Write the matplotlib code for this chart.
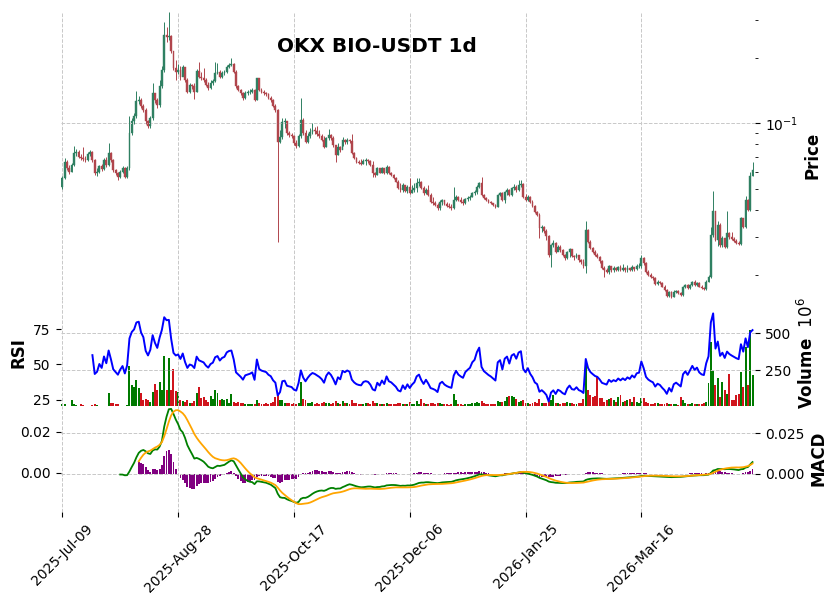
import numpy as np
import pandas as pd
import matplotlib
matplotlib.use("Agg")
from matplotlib import pyplot as plt
from matplotlib.collections import LineCollection
from matplotlib.ticker import FixedLocator, NullFormatter, FuncFormatter

title = "OKX BIO-USDT 1d"
start_date = "2025-07-09"
first_open = 0.0510

closes = [
    0.0559, 0.0666, 0.0621, 0.0599, 0.0643, 0.0728, 0.0740, 0.0702, 0.0690, 0.0683,
    0.0678, 0.0723, 0.0740, 0.0678, 0.0589, 0.0599, 0.0636, 0.0616, 0.0678, 0.0643,
    0.0728, 0.0678, 0.0610, 0.0589, 0.0569, 0.0599, 0.0621, 0.0569, 0.0621, 0.0903,
    0.1021, 0.1077, 0.1260, 0.1283, 0.1196, 0.1155, 0.1021, 0.0969, 0.1057, 0.1377,
    0.1283, 0.1217, 0.1477, 0.1761, 0.2548, 0.2494, 0.2521, 0.2152, 0.1798, 0.1724,
    0.1761, 0.1641, 0.1824, 0.1585, 0.1400, 0.1503, 0.1477, 0.1400, 0.1742, 0.1641,
    0.1612, 0.1585, 0.1503, 0.1450, 0.1535, 0.1568, 0.1700, 0.1729, 0.1641, 0.1700,
    0.1724, 0.1824, 0.1857, 0.1867, 0.1729, 0.1477, 0.1426, 0.1377, 0.1311, 0.1377,
    0.1388, 0.1400, 0.1418, 0.1283, 0.1612, 0.1426, 0.1392, 0.1377, 0.1362, 0.1311,
    0.1283, 0.1204, 0.1155, 0.0823, 0.0866, 0.1017, 0.1025, 0.0903, 0.0887, 0.0871,
    0.0809, 0.0787, 0.0872, 0.1039, 0.0903, 0.0823, 0.0872, 0.0910, 0.0935, 0.0920,
    0.0896, 0.0872, 0.0838, 0.0782, 0.0853, 0.0887, 0.0853, 0.0795, 0.0715, 0.0782,
    0.0754, 0.0838, 0.0821, 0.0838, 0.0825, 0.0728, 0.0690, 0.0666, 0.0655, 0.0650,
    0.0673, 0.0678, 0.0671, 0.0643, 0.0592, 0.0579, 0.0621, 0.0593, 0.0621, 0.0589,
    0.0632, 0.0589, 0.0579, 0.0559, 0.0539, 0.0504, 0.0494, 0.0521, 0.0489, 0.0510,
    0.0479, 0.0494, 0.0504, 0.0530, 0.0538, 0.0503, 0.0477, 0.0494, 0.0469, 0.0436,
    0.0430, 0.0422, 0.0407, 0.0436, 0.0442, 0.0426, 0.0417, 0.0411, 0.0407, 0.0444,
    0.0460, 0.0444, 0.0436, 0.0430, 0.0447, 0.0454, 0.0460, 0.0477, 0.0485, 0.0512,
    0.0530, 0.0469, 0.0452, 0.0444, 0.0436, 0.0430, 0.0422, 0.0414, 0.0469, 0.0477,
    0.0444, 0.0485, 0.0494, 0.0469, 0.0503, 0.0510, 0.0494, 0.0521, 0.0527, 0.0460,
    0.0444, 0.0460, 0.0434, 0.0417, 0.0389, 0.0379, 0.0330, 0.0335, 0.0321, 0.0302,
    0.0248, 0.0276, 0.0283, 0.0257, 0.0270, 0.0262, 0.0248, 0.0240, 0.0256, 0.0264,
    0.0245, 0.0242, 0.0248, 0.0234, 0.0229, 0.0220, 0.0324, 0.0286, 0.0267, 0.0257,
    0.0248, 0.0244, 0.0232, 0.0216, 0.0212, 0.0208, 0.0220, 0.0212, 0.0216, 0.0212,
    0.0218, 0.0212, 0.0216, 0.0211, 0.0216, 0.0212, 0.0218, 0.0213, 0.0220, 0.0221,
    0.0241, 0.0228, 0.0208, 0.0201, 0.0197, 0.0194, 0.0183, 0.0187, 0.0184, 0.0177,
    0.0171, 0.0161, 0.0168, 0.0159, 0.0168, 0.0170, 0.0166, 0.0162, 0.0177, 0.0181,
    0.0175, 0.0181, 0.0187, 0.0181, 0.0184, 0.0177, 0.0174, 0.0173, 0.0187, 0.0197,
    0.0307, 0.0396, 0.0291, 0.0341, 0.0276, 0.0297, 0.0271, 0.0313, 0.0301, 0.0294,
    0.0288, 0.0282, 0.0278, 0.0367, 0.0335, 0.0444, 0.0400, 0.0573, 0.0610,
]

highs = [
    0.0573, 0.0693, 0.0678, 0.0643, 0.0657, 0.0787, 0.0762, 0.0754, 0.0723, 0.0775,
    0.0708, 0.0738, 0.0754, 0.0746, 0.0685, 0.0623, 0.0643, 0.0650, 0.0693, 0.0700,
    0.0809, 0.0738, 0.0685, 0.0616, 0.0597, 0.0610, 0.0636, 0.0629, 0.0636, 0.1077,
    0.1061, 0.1119, 0.1401, 0.1339, 0.1311, 0.1230, 0.1180, 0.1039, 0.1084, 0.1530,
    0.1381, 0.1311, 0.1585, 0.1838, 0.2923, 0.2771, 0.3260, 0.2548, 0.2130, 0.1957,
    0.1877, 0.1838, 0.1857, 0.1761, 0.1619, 0.1535, 0.1519, 0.1535, 0.1780, 0.1910,
    0.1724, 0.1793, 0.1619, 0.1552, 0.1585, 0.1602, 0.1910, 0.1890, 0.1761, 0.1742,
    0.1761, 0.1857, 0.1896, 0.2006, 0.1896, 0.1761, 0.1503, 0.1441, 0.1396, 0.1411,
    0.1426, 0.1441, 0.1457, 0.1441, 0.1623, 0.1619, 0.1457, 0.1426, 0.1396, 0.1381,
    0.1339, 0.1297, 0.1230, 0.1167, 0.0935, 0.1061, 0.1061, 0.1028, 0.0925, 0.0906,
    0.0887, 0.0838, 0.0896, 0.1311, 0.1061, 0.0935, 0.0906, 0.0955, 0.1006, 0.0966,
    0.0976, 0.0935, 0.0896, 0.0878, 0.0868, 0.0941, 0.0896, 0.0878, 0.0795, 0.0812,
    0.0787, 0.0866, 0.0847, 0.0859, 0.0847, 0.0893, 0.0738, 0.0700, 0.0678, 0.0685,
    0.0685, 0.0693, 0.0685, 0.0678, 0.0671, 0.0597, 0.0629, 0.0623, 0.0629, 0.0623,
    0.0643, 0.0636, 0.0597, 0.0585, 0.0567, 0.0549, 0.0532, 0.0532, 0.0516, 0.0521,
    0.0561, 0.0521, 0.0532, 0.0559, 0.0561, 0.0543, 0.0516, 0.0504, 0.0521, 0.0479,
    0.0459, 0.0440, 0.0430, 0.0444, 0.0449, 0.0444, 0.0435, 0.0430, 0.0426, 0.0512,
    0.0469, 0.0464, 0.0459, 0.0449, 0.0454, 0.0464, 0.0469, 0.0484, 0.0494, 0.0521,
    0.0538, 0.0569, 0.0474, 0.0459, 0.0449, 0.0440, 0.0430, 0.0426, 0.0474, 0.0484,
    0.0484, 0.0490, 0.0504, 0.0499, 0.0510, 0.0527, 0.0521, 0.0549, 0.0549, 0.0532,
    0.0474, 0.0469, 0.0464, 0.0444, 0.0422, 0.0396, 0.0388, 0.0341, 0.0338, 0.0327,
    0.0307, 0.0279, 0.0291, 0.0285, 0.0276, 0.0276, 0.0265, 0.0251, 0.0259, 0.0268,
    0.0265, 0.0248, 0.0253, 0.0248, 0.0238, 0.0238, 0.0354, 0.0327, 0.0291, 0.0270,
    0.0262, 0.0253, 0.0245, 0.0236, 0.0221, 0.0216, 0.0223, 0.0221, 0.0221, 0.0218,
    0.0221, 0.0223, 0.0226, 0.0218, 0.0223, 0.0216, 0.0223, 0.0218, 0.0226, 0.0228,
    0.0248, 0.0244, 0.0231, 0.0212, 0.0205, 0.0199, 0.0197, 0.0190, 0.0188, 0.0186,
    0.0181, 0.0173, 0.0169, 0.0169, 0.0171, 0.0171, 0.0171, 0.0168, 0.0179, 0.0183,
    0.0183, 0.0183, 0.0188, 0.0190, 0.0186, 0.0186, 0.0181, 0.0177, 0.0190, 0.0201,
    0.0332, 0.0486, 0.0397, 0.0355, 0.0348, 0.0304, 0.0297, 0.0393, 0.0317, 0.0317,
    0.0301, 0.0294, 0.0288, 0.0372, 0.0368, 0.0464, 0.0447, 0.0597, 0.0666,
]

lows = [
    0.0499, 0.0555, 0.0610, 0.0585, 0.0597, 0.0636, 0.0708, 0.0693, 0.0678, 0.0671,
    0.0664, 0.0671, 0.0708, 0.0664, 0.0579, 0.0573, 0.0592, 0.0604, 0.0610, 0.0629,
    0.0636, 0.0664, 0.0597, 0.0579, 0.0549, 0.0561, 0.0592, 0.0561, 0.0561, 0.0610,
    0.0887, 0.0997, 0.1061, 0.1230, 0.1180, 0.1131, 0.0997, 0.0955, 0.0955, 0.1039,
    0.1243, 0.1180, 0.1192, 0.1457, 0.1724, 0.2366, 0.2417, 0.2108, 0.1761, 0.1585,
    0.1688, 0.1585, 0.1707, 0.1552, 0.1381, 0.1381, 0.1441, 0.1293, 0.1396, 0.1619,
    0.1585, 0.1552, 0.1487, 0.1426, 0.1441, 0.1503, 0.1552, 0.1688, 0.1619, 0.1619,
    0.1671, 0.1707, 0.1798, 0.1838, 0.1707, 0.1457, 0.1411, 0.1353, 0.1283, 0.1297,
    0.1353, 0.1367, 0.1381, 0.1270, 0.1283, 0.1411, 0.1381, 0.1353, 0.1339, 0.1297,
    0.1257, 0.1192, 0.1131, 0.0284, 0.0812, 0.0847, 0.0955, 0.0887, 0.0868, 0.0859,
    0.0795, 0.0770, 0.0779, 0.0859, 0.0887, 0.0812, 0.0812, 0.0859, 0.0896, 0.0896,
    0.0878, 0.0859, 0.0829, 0.0770, 0.0779, 0.0838, 0.0838, 0.0779, 0.0666, 0.0715,
    0.0738, 0.0787, 0.0804, 0.0804, 0.0812, 0.0723, 0.0685, 0.0657, 0.0650, 0.0643,
    0.0650, 0.0643, 0.0657, 0.0636, 0.0567, 0.0567, 0.0579, 0.0590, 0.0590, 0.0585,
    0.0585, 0.0585, 0.0573, 0.0555, 0.0538, 0.0499, 0.0485, 0.0484, 0.0484, 0.0479,
    0.0474, 0.0479, 0.0484, 0.0484, 0.0516, 0.0499, 0.0469, 0.0474, 0.0464, 0.0430,
    0.0422, 0.0417, 0.0400, 0.0400, 0.0422, 0.0422, 0.0413, 0.0409, 0.0400, 0.0404,
    0.0440, 0.0440, 0.0430, 0.0422, 0.0426, 0.0440, 0.0444, 0.0459, 0.0469, 0.0474,
    0.0504, 0.0464, 0.0449, 0.0440, 0.0430, 0.0426, 0.0417, 0.0409, 0.0413, 0.0464,
    0.0440, 0.0430, 0.0469, 0.0464, 0.0464, 0.0494, 0.0484, 0.0489, 0.0510, 0.0454,
    0.0440, 0.0440, 0.0430, 0.0413, 0.0388, 0.0375, 0.0296, 0.0317, 0.0314, 0.0291,
    0.0242, 0.0218, 0.0270, 0.0254, 0.0259, 0.0256, 0.0245, 0.0236, 0.0238, 0.0243,
    0.0243, 0.0236, 0.0240, 0.0231, 0.0226, 0.0217, 0.0205, 0.0282, 0.0265, 0.0254,
    0.0245, 0.0240, 0.0228, 0.0214, 0.0197, 0.0205, 0.0203, 0.0207, 0.0207, 0.0210,
    0.0210, 0.0210, 0.0210, 0.0207, 0.0207, 0.0210, 0.0210, 0.0210, 0.0212, 0.0216,
    0.0216, 0.0223, 0.0205, 0.0199, 0.0194, 0.0190, 0.0181, 0.0181, 0.0183, 0.0176,
    0.0169, 0.0159, 0.0159, 0.0157, 0.0159, 0.0166, 0.0164, 0.0161, 0.0161, 0.0175,
    0.0173, 0.0173, 0.0179, 0.0179, 0.0179, 0.0176, 0.0173, 0.0171, 0.0171, 0.0186,
    0.0194, 0.0301, 0.0288, 0.0273, 0.0270, 0.0270, 0.0268, 0.0268, 0.0294, 0.0291,
    0.0285, 0.0279, 0.0276, 0.0276, 0.0330, 0.0330, 0.0396, 0.0396, 0.0573,
]

# daily volume in millions
volume_m = [
    20, 22, 12, 12, 49, 20, 14, 12, 20, 14,
    12, 12, 12, 14, 20, 14, 12, 12, 12, 12,
    95, 32, 27, 23, 20, 12, 12, 12, 14, 279,
    151, 140, 185, 128, 99, 49, 54, 49, 38, 106,
    157, 115, 169, 115, 347, 115, 336, 119, 257, 110,
    106, 49, 43, 38, 49, 32, 27, 45, 99, 135,
    61, 72, 49, 38, 77, 54, 115, 99, 49, 54,
    49, 54, 27, 88, 38, 32, 38, 32, 27, 23,
    20, 23, 20, 23, 49, 27, 25, 23, 27, 25,
    27, 38, 72, 83, 49, 49, 32, 32, 27, 25,
    27, 23, 30, 173, 56, 49, 32, 30, 38, 25,
    27, 23, 30, 35, 27, 32, 23, 30, 40, 27,
    23, 45, 27, 30, 23, 49, 32, 30, 23, 20,
    25, 27, 30, 23, 45, 30, 27, 20, 23, 20,
    27, 25, 20, 23, 20, 30, 27, 23, 20, 25,
    38, 23, 20, 40, 25, 54, 30, 23, 25, 30,
    27, 23, 27, 30, 20, 23, 20, 18, 23, 88,
    49, 23, 20, 18, 20, 23, 25, 27, 30, 35,
    32, 45, 27, 23, 20, 20, 23, 25, 45, 35,
    38, 40, 72, 77, 79, 68, 54, 38, 40, 49,
    32, 27, 25, 30, 38, 32, 54, 30, 27, 30,
    45, 49, 83, 32, 27, 25, 30, 27, 35, 32,
    27, 23, 25, 27, 30, 54, 320, 119, 83, 72,
    79, 203, 61, 61, 38, 49, 54, 61, 49, 38,
    72, 83, 38, 43, 49, 54, 38, 72, 38, 27,
    65, 61, 38, 27, 23, 20, 27, 30, 23, 20,
    25, 27, 23, 20, 23, 20, 18, 72, 49, 27,
    25, 23, 30, 25, 23, 20, 23, 27, 38, 162,
    443, 250, 151, 196, 72, 173, 119, 92, 225, 49,
    49, 83, 88, 236, 135, 410, 151, 522, 220,
]

n = len(closes)
x = np.arange(n)
o = np.array([first_open] + closes[:-1])
c = np.array(closes)
hi = np.array(highs)
lo = np.array(lows)
dates = pd.date_range(start_date, periods=n, freq="D")

# indicators
cs = pd.Series(c)
delta = cs.diff().fillna(0)
gain = delta.clip(lower=0).ewm(alpha=1 / 14, adjust=False, min_periods=14).mean()
loss = (-delta.clip(upper=0)).ewm(alpha=1 / 14, adjust=False, min_periods=14).mean()
rsi = 100 - 100 / (1 + gain / loss)
ema12 = cs.ewm(span=12, adjust=False, min_periods=12).mean()
ema26 = cs.ewm(span=26, adjust=False, min_periods=26).mean()
macd = ema12 - ema26
signal = macd.ewm(span=9, adjust=False, min_periods=9).mean()
hist = macd - signal

W, H = 837, 599
fig = plt.figure(figsize=(W / 100, H / 100), dpi=100)


def box(top, bottom):
    return [60.5 / W, 1 - bottom / H, (755.3 - 60.5) / W, (bottom - top) / H]


ax_p = fig.add_axes(box(11.7, 299.6))
ax_v = fig.add_axes(box(299.6, 405.7), sharex=ax_p)
ax_m = fig.add_axes(box(405.7, 511.8), sharex=ax_p)
ax_r = ax_v.twinx()
ax_s = ax_m.twinx()

grid_kw = dict(ls="--", lw=0.7, color="#c8c8c8")
for ax in (ax_p, ax_v, ax_m, ax_r, ax_s):
    for sp in ax.spines.values():
        sp.set_visible(False)
    ax.tick_params(labelsize=10)

# candles
up = c >= o
up_col, dn_col = "#2f8062", "#b0454c"
cols = np.where(up, up_col, dn_col)
segs = [[(i, lo[i]), (i, hi[i])] for i in x]
ax_p.add_collection(LineCollection(segs, colors=cols, linewidths=0.7))
ax_p.bar(x, np.abs(c - o), bottom=np.minimum(c, o), width=0.8,
         color=cols, edgecolor=cols, linewidth=0.3)
ax_p.set_yscale("log")
ax_p.set_ylim(0.01546, 0.326)
ax_p.set_xlim(-0.78, 299.2)
ax_p.yaxis.tick_right()
ax_p.yaxis.set_label_position("right")
ax_p.yaxis.set_minor_formatter(NullFormatter())
ax_p.set_ylabel("Price", fontsize=12, fontweight="bold")
ax_p.grid(True, which="major", **grid_kw)
ax_p.tick_params(bottom=False, labelbottom=False)
ax_p.xaxis.set_major_locator(FixedLocator(list(range(0, n, 50))))

# volume + rsi
vcols = np.where(up, "#007a00", "#d0141c")
ax_v.bar(x, volume_m, width=0.85, color=vcols, linewidth=0)
ax_v.set_ylim(10.8, 727.7)
ax_v.yaxis.tick_right()
ax_v.yaxis.set_label_position("right")
ax_v.set_yticks([250, 500])
ax_v.set_ylabel("Volume  $10^{6}$", fontsize=12, fontweight="bold")
ax_v.grid(True, **grid_kw)
ax_v.tick_params(bottom=False, labelbottom=False)

ax_r.plot(x, rsi, color="blue", lw=1.4)
ax_r.set_ylim(20.7, 96.1)
ax_r.yaxis.tick_left()
ax_r.yaxis.set_label_position("left")
ax_r.set_yticks([25, 50, 75])
ax_r.set_ylabel("RSI", fontsize=12, fontweight="bold")
ax_r.tick_params(bottom=False, labelbottom=False)

# macd
ax_m.bar(x, hist, width=0.8, color="purple", linewidth=0)
ax_m.plot(x, macd, color="green", lw=1.3)
ax_m.set_ylim(-0.02322, 0.04195)
ax_m.yaxis.tick_right()
ax_m.yaxis.set_label_position("right")
ax_m.set_yticks([0.0, 0.025])
ax_m.yaxis.set_major_formatter(FuncFormatter(lambda v, p: f"{v:.3f}"))
ax_m.set_ylabel("MACD", fontsize=12, fontweight="bold")
ax_m.grid(True, **grid_kw)

ax_s.plot(x, signal, color="orange", lw=1.3)
ax_s.set_ylim(-0.01907, 0.03268)
ax_s.yaxis.tick_left()
ax_s.set_yticks([0.0, 0.02])
ax_s.yaxis.set_major_formatter(FuncFormatter(lambda v, p: f"{v:.2f}"))

ticks = list(range(0, n, 50))
ax_m.set_xticks(ticks)
ax_m.set_xticklabels([dates[t].strftime("%Y-%b-%d") for t in ticks],
                     rotation=45, ha="center", fontsize=10)

fig.text(0.45, 1 - 47 / H, title, ha="center", va="center",
         fontsize=14.4, fontweight="bold")

fig.savefig("out.png", dpi=100)
